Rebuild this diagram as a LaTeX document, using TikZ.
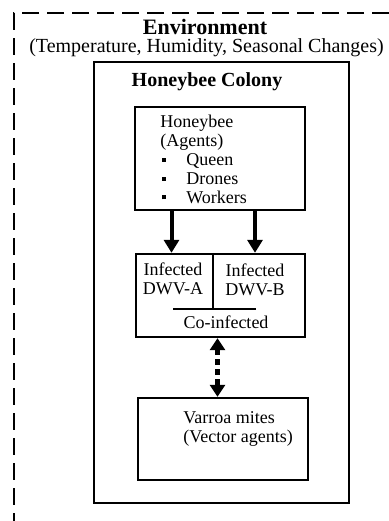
\documentclass[tikz,border=0pt]{standalone}
\usepackage{fontspec}
\setmainfont{Liberation Serif}
\usetikzlibrary{arrows.meta}

\begin{document}
\begin{tikzpicture}[x=0.5pt,y=-0.5pt,
    box/.style={draw, line width=1.2pt, rectangle, inner sep=0pt},
    txt/.style={font=\fontsize{9}{9.4}\selectfont, inner sep=0pt},
    flow/.style={line width=2pt, -{Triangle[length=6.5pt,width=7.5pt]}},
    vector/.style={line width=2.2pt, dash pattern=on 3pt off 2pt,
        {Triangle[length=6pt,width=7.5pt]}-{Triangle[length=6pt,width=7.5pt]}},
    ]
\useasboundingbox (0,0) rectangle (389,521);

% environment (dashed, open to the right and below)
\coordinate (envtr) at (389,13);
\coordinate (envtl) at (14,13);
\coordinate (envbl) at (14,521);
\draw[line width=1.4pt, dash pattern=on 8.5pt off 4pt] (envtr) -- (envtl) -- (envbl);
\node[inner sep=0pt, font=\fontsize{11}{13}\bfseries\selectfont] (env) at (205,27) {Environment};
\node[inner sep=0pt, font=\fontsize{10}{12}\selectfont] (envsub) at (206.5,48)
    {(Temperature, Humidity, Seasonal Changes)};

% colony
\node[box, line width=1.4pt, minimum width=127.5pt, minimum height=220.5pt] (colony) at (221.5,282.5) {};
\node[inner sep=0pt, font=\fontsize{10}{12}\bfseries\selectfont] (colonylbl) at (207,82) {Honeybee Colony};

% agents
\node[box, minimum width=85pt, minimum height=51.5pt] (agents) at (220,158.5) {};
\newcommand{\itm}[1]{\hspace*{1pt}\makebox[12pt][l]{\rule[0.2em]{2pt}{2pt}}#1}
\node[txt, align=left, anchor=north west] (agentslbl) at (160,115)
    {Honeybee\\(Agents)\\\itm{Queen}\\\itm{Drones}\\\itm{Workers}};

% infected
\node[box, minimum width=84.5pt, minimum height=41.5pt] (infected) at (220.5,295.5) {};
\node[txt, align=center] (dwva) at (173,279) {Infected\\DWV-A};
\node[txt, align=center] (dwvb) at (255,280) {Infected\\DWV-B};
\node[txt] (coinf) at (226,322) {Co-infected};
\coordinate (split) at (213,309);
\coordinate (splitl) at (173,309);
\coordinate (splitr) at (256,309);
\draw[line width=1.2pt] (split |- infected.north) -- (split);
\draw[line width=1.2pt] (splitl) -- (splitr);

% varroa
\node[box, minimum width=85pt, minimum height=41pt] (varroa) at (223,439) {};
\node[txt, align=left, anchor=north west] (varroalbl) at (183,411)
    {Varroa mites\\(Vector agents)};

\draw[flow] ([xshift=-0.75pt]dwva |- agents.south) -- ([xshift=-0.75pt]dwva |- infected.north);
\draw[flow] (dwvb |- agents.south) -- (dwvb |- infected.north);
\draw[vector] ([xshift=-1.5pt]infected.south) -- ([xshift=-1.5pt]infected.south |- varroa.north);
\end{tikzpicture}
\end{document}
